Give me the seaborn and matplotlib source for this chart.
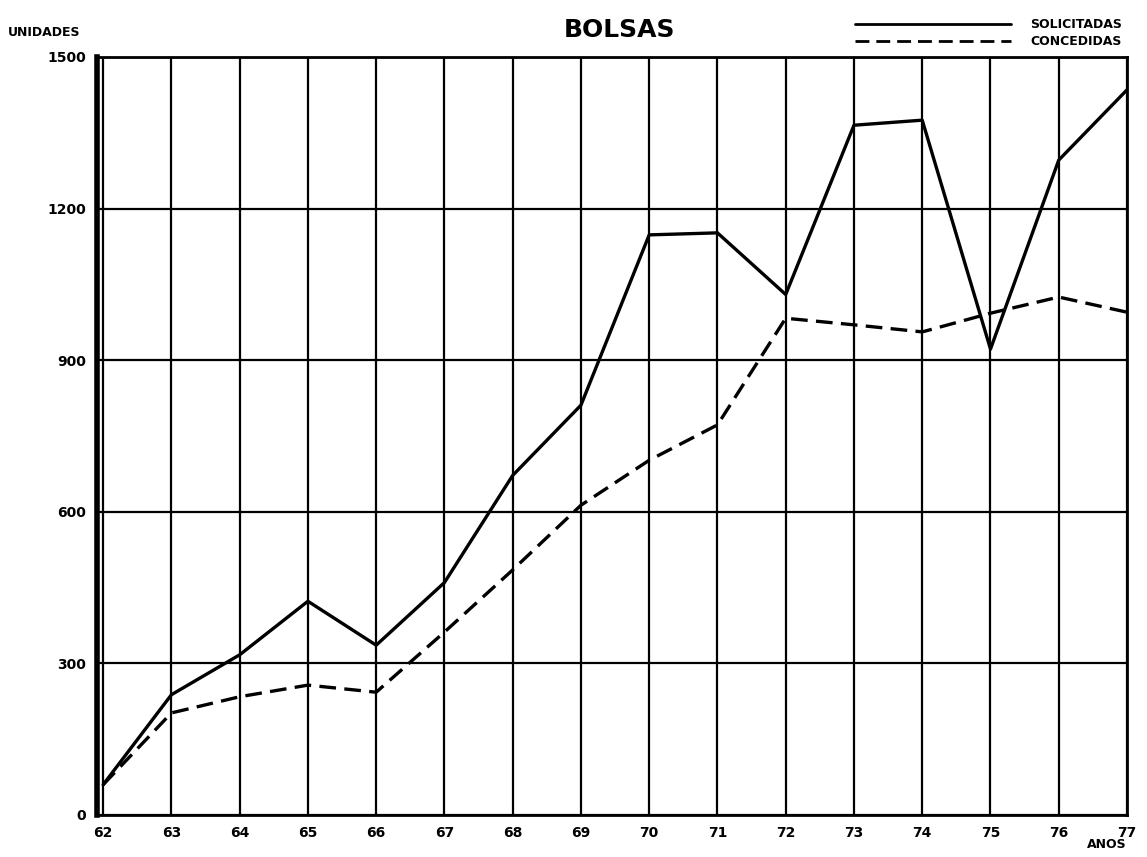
import numpy as np
import pandas as pd
from matplotlib import pyplot as plt
import seaborn as sns

# Data.
anos = list(range(62, 78))
solicitadas = [60, 238, 317, 423, 336, 460, 672, 811, 1148, 1152, 1030, 1365, 1375, 922, 1296, 1435]
concedidas = [60, 202, 234, 257, 243, 362, 485, 613, 702, 772, 983, 970, 956, 993, 1025, 995]
y_ticks = [0, 300, 600, 900, 1200, 1500]

df = pd.DataFrame({
    "ano": anos * 2,
    "unidades": solicitadas + concedidas,
    "serie": ["SOLICITADAS"] * len(anos) + ["CONCEDIDAS"] * len(anos),
})

sns.set_theme(style="white")
plt.rcParams["font.family"] = ["DejaVu Sans"]
plt.rcParams["font.weight"] = "bold"
plt.rcParams["text.color"] = "black"
plt.rcParams["xtick.color"] = "black"
plt.rcParams["ytick.color"] = "black"

fig = plt.figure(figsize=(11.47, 8.57), dpi=100)
ax = fig.add_axes([97 / 1147, 1 - 815 / 857, 1030 / 1147, 758 / 857])

sns.lineplot(data=df, x="ano", y="unidades", style="serie", color="black",
             dashes={"SOLICITADAS": "", "CONCEDIDAS": (5, 2.5)},
             linewidth=2.4, ax=ax)

ax.set_xlim(61.91, 77)
ax.set_ylim(0, 1500)
ax.set_xticks(anos)
ax.set_yticks(y_ticks)
ax.set_xticklabels([str(a) for a in anos], fontsize=10, fontweight="bold")
ax.set_yticklabels([str(v) for v in y_ticks], fontsize=10, fontweight="bold")
ax.tick_params(length=0, pad=8)
ax.grid(True, color="black", linewidth=1.6)
ax.set_axisbelow(True)
for side, sp in ax.spines.items():
    sp.set_visible(True)
    sp.set_color("black")
    sp.set_linewidth(2)
ax.spines["left"].set_linewidth(4)
ax.set_xlabel("")
ax.set_ylabel("")

leg = ax.legend(loc="lower right", bbox_to_anchor=(1.0, 1.005), frameon=False,
                handlelength=12.5, handletextpad=1.5, labelspacing=0.3,
                prop={"size": 9, "weight": "bold"}, borderaxespad=0)
for h in leg.get_lines():
    h.set_linewidth(2)
for t in leg.get_texts():
    t.set_color("black")

fig.text(620 / 1147, 1 - 30 / 857, "BOLSAS", ha="center", va="center",
         fontsize=18, fontweight="bold")
fig.text(8 / 1147, 1 - 33 / 857, "UNIDADES", ha="left", va="center",
         fontsize=9, fontweight="bold")
fig.text(1127 / 1147, 1 - 844 / 857, "ANOS", ha="right", va="center",
         fontsize=9, fontweight="bold")

fig.savefig("out.png", dpi=100, facecolor="white")
